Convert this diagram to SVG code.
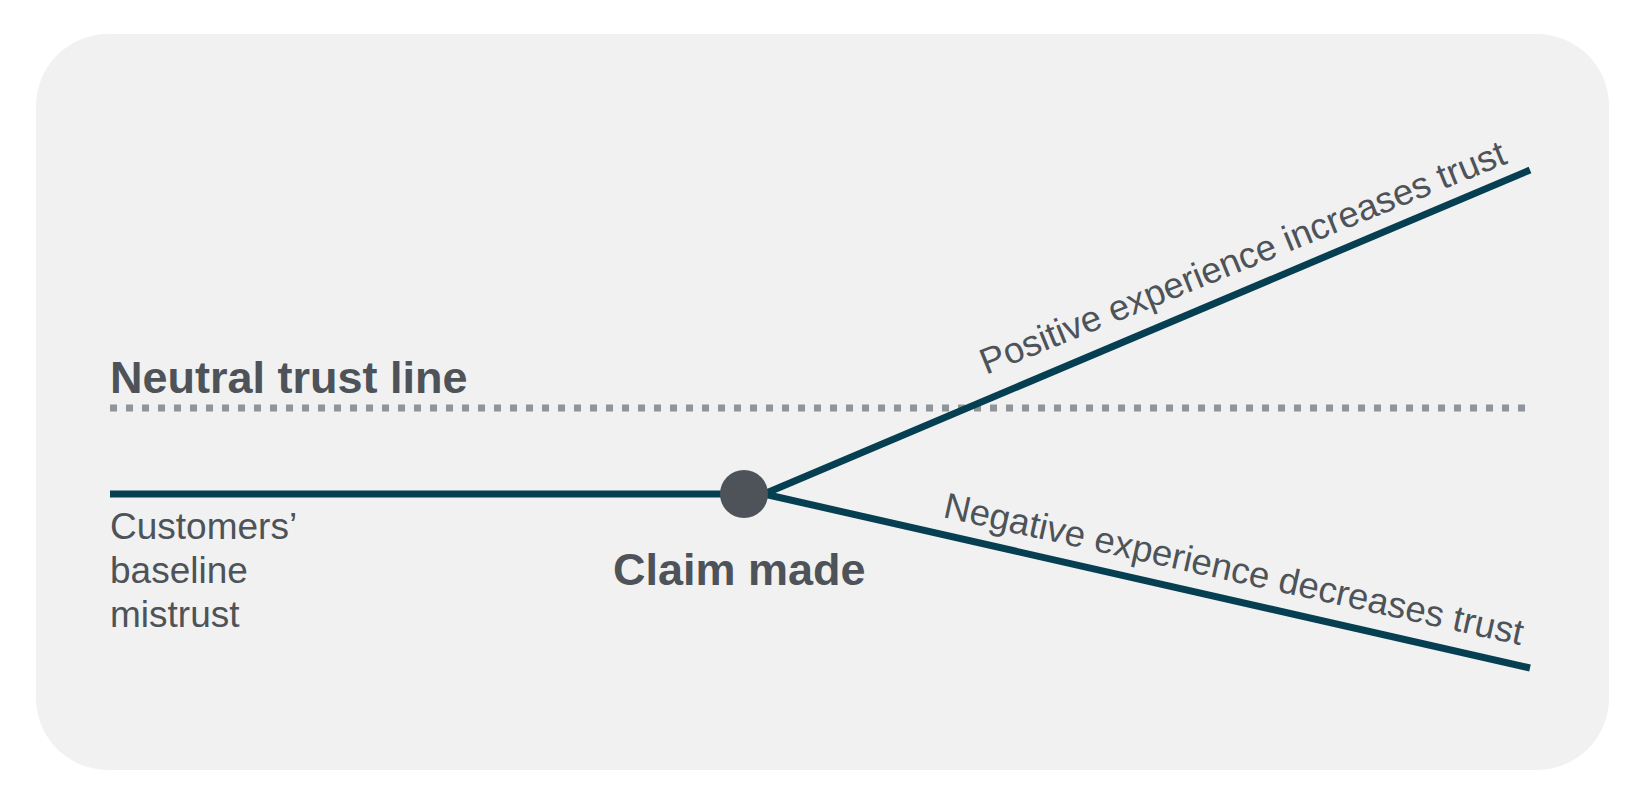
<svg xmlns="http://www.w3.org/2000/svg" width="1642" height="808" viewBox="0 0 1642 808">
  <style>
    .lbl { font-family: "Liberation Sans", Arial, sans-serif; fill: #4d5358; }
    .reg { font-size: 37px; }
    .diag { font-size: 36.5px; }
    .bold { font-size: 45px; font-weight: bold; }
    .trend { stroke: #053f51; stroke-width: 7; fill: none; stroke-linecap: butt; }
    .neutral { stroke: #8f959b; stroke-width: 7; stroke-dasharray: 7 9; fill: none; }
  </style>
  <rect x="0" y="0" width="1642" height="808" fill="#ffffff"/>
  <rect id="card" x="36" y="34" width="1573" height="736" rx="72" ry="72" fill="#f1f1f1"/>

  <g id="connectors">
    <line class="neutral" x1="110" y1="408" x2="1526" y2="408"/>
    <line class="trend" x1="110" y1="494" x2="744" y2="494"/>
    <line class="trend" x1="764" y1="494" x2="1530" y2="170"/>
    <line class="trend" x1="764" y1="494" x2="1530" y2="668"/>
  </g>

  <g id="neutral-line-label">
    <text class="lbl bold" x="110" y="393">Neutral trust line</text>
  </g>

  <g id="baseline-label">
    <text class="lbl reg" x="110" y="539">Customers’</text>
    <text class="lbl reg" x="110" y="583">baseline</text>
    <text class="lbl reg" x="110" y="627">mistrust</text>
  </g>

  <g id="claim">
    <circle cx="744" cy="494" r="24" fill="#4d5358"/>
    <text class="lbl bold" x="613" y="585">Claim made</text>
  </g>

  <g id="positive">
    <text class="lbl diag" x="986" y="375" transform="rotate(-22.1 986 375)">Positive experience increases trust</text>
  </g>

  <g id="negative">
    <text class="lbl diag" x="942" y="517" transform="rotate(12.5 942 517)">Negative experience decreases trust</text>
  </g>
</svg>
